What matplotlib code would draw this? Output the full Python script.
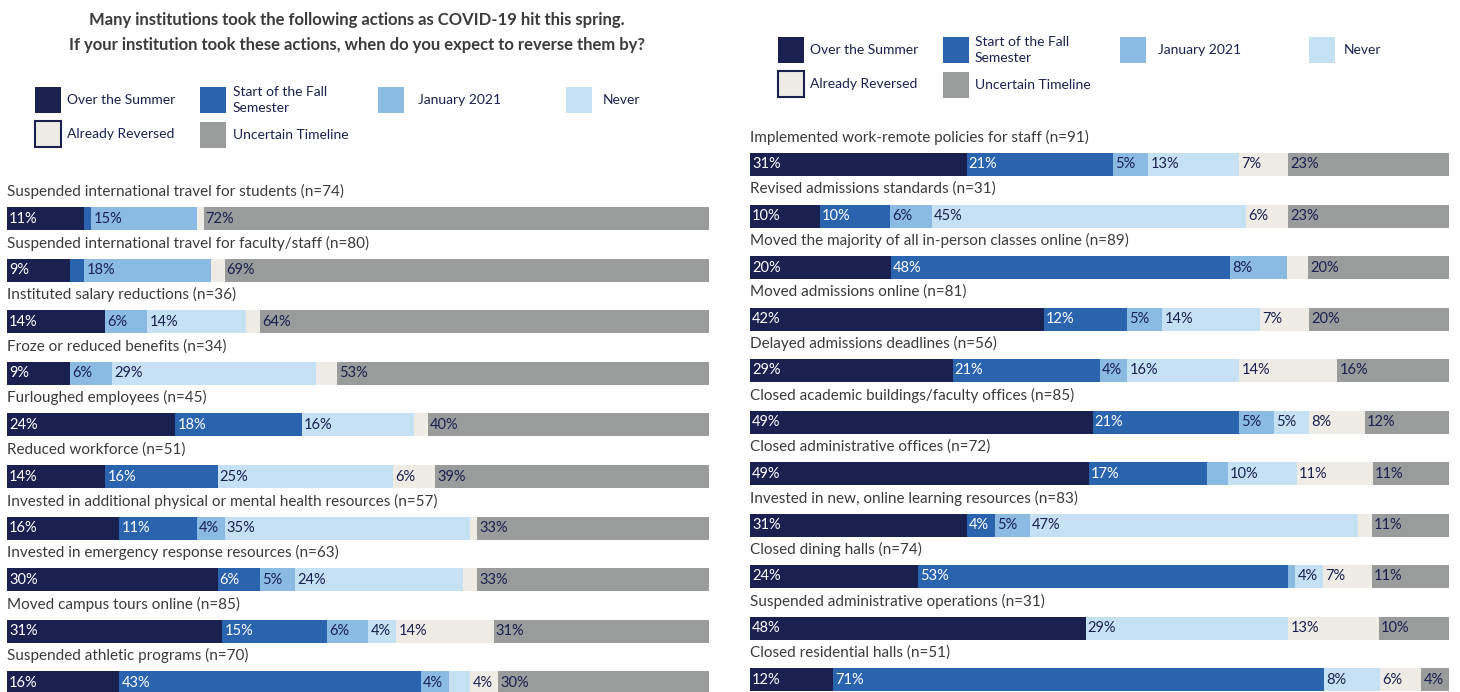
import numpy as np
import matplotlib
matplotlib.use('Agg')
import matplotlib.pyplot as plt
from matplotlib.patches import Rectangle

plt.rcParams['font.family'] = ['Lato', 'DejaVu Sans']

# ---- data ----
categories = ['Over the Summer', 'Start of the Fall\nSemester', 'January 2021',
              'Never', 'Already Reversed', 'Uncertain Timeline']

left_labels = ['Suspended international travel for students (n=74)',
               'Suspended international travel for faculty/staff (n=80)',
               'Instituted salary reductions (n=36)',
               'Froze or reduced benefits (n=34)',
               'Furloughed employees (n=45)',
               'Reduced workforce (n=51)',
               'Invested in additional physical or mental health resources (n=57)',
               'Invested in emergency response resources (n=63)',
               'Moved campus tours online (n=85)',
               'Suspended athletic programs (n=70)']
left_summer = [11, 9, 14, 9, 24, 14, 16, 30, 31, 16]
left_fall = [1, 2, 0, 0, 18, 16, 11, 6, 15, 43]
left_jan = [15, 18, 6, 6, 0, 0, 4, 5, 6, 4]
left_never = [0, 0, 14, 29, 16, 25, 35, 24, 4, 3]
left_reversed = [1, 2, 2, 3, 2, 6, 1, 2, 14, 4]
left_uncertain = [72, 69, 64, 53, 40, 39, 33, 33, 31, 30]

right_labels = ['Implemented work-remote policies for staff (n=91)',
                'Revised admissions standards (n=31)',
                'Moved the majority of all in-person classes online (n=89)',
                'Moved admissions online (n=81)',
                'Delayed admissions deadlines (n=56)',
                'Closed academic buildings/faculty offices (n=85)',
                'Closed administrative offices (n=72)',
                'Invested in new, online learning resources (n=83)',
                'Closed dining halls (n=74)',
                'Suspended administrative operations (n=31)',
                'Closed residential halls (n=51)']
right_summer = [31, 10, 20, 42, 29, 49, 49, 31, 24, 48, 12]
right_fall = [21, 10, 48, 12, 21, 21, 17, 4, 53, 0, 71]
right_jan = [5, 6, 8, 5, 4, 5, 3, 5, 1, 0, 0]
right_never = [13, 45, 0, 14, 16, 5, 10, 47, 4, 29, 8]
right_reversed = [7, 6, 3, 7, 14, 8, 11, 2, 7, 13, 6]
right_uncertain = [23, 23, 20, 20, 16, 12, 11, 11, 11, 10, 4]

colors = ['#1a2150', '#2a63ae', '#8bbae3', '#c6e0f4', '#efece5', '#9a9b9b']
text_colors = ['white', 'white', '#1a2150', '#1a2150', '#1a2150', '#1a2150']
label_color = '#3a3a3a'

W, H = 1460, 692
fig = plt.figure(figsize=(W / 100, H / 100), dpi=100)


def draw_panel(x0, x1, first_center, pitch, labels, series):
    ax = fig.add_axes([x0 / W, 0, (x1 - x0) / W, 1])
    vals = np.array(series, dtype=float).T          # rows x categories
    totals = vals.sum(axis=1)
    n = len(labels)
    y = np.arange(n)
    left = np.zeros(n)
    for k in range(vals.shape[1]):
        w = vals[:, k] / totals * 100
        ax.barh(y, w, left=left, height=23 / pitch, color=colors[k],
                edgecolor='none')
        for i in range(n):
            if vals[i, k] >= 4:
                ax.text(left[i] + 0.3, y[i], '%d%%' % vals[i, k],
                        color=text_colors[k], fontsize=10.5,
                        ha='left', va='center')
        left += w
    for i, lab in enumerate(labels):
        ax.text(0, y[i] - 27 / pitch, lab, color=label_color,
                fontsize=11, ha='left', va='center', clip_on=False)
    ax.set_xlim(0, 100)
    ax.set_ylim((H - first_center) / pitch, -first_center / pitch)
    ax.axis('off')
    return ax


draw_panel(7, 709, 218.5, 51.6, left_labels,
           [left_summer, left_fall, left_jan, left_never, left_reversed, left_uncertain])
draw_panel(750, 1449, 164.5, 51.5, right_labels,
           [right_summer, right_fall, right_jan, right_never, right_reversed, right_uncertain])

# overlay for title and legends (pixel coordinates)
ov = fig.add_axes([0, 0, 1, 1])
ov.set_xlim(0, W)
ov.set_ylim(H, 0)
ov.axis('off')

ov.text(357, 20, 'Many institutions took the following actions as COVID-19 hit this spring.',
        ha='center', va='center', fontsize=12, fontweight='bold', color='#3b3b3b')
ov.text(357, 45, 'If your institution took these actions, when do you expect to reverse them by?',
        ha='center', va='center', fontsize=12, fontweight='bold', color='#3b3b3b')


def draw_legend(xs, ys, offsets):
    for k, cat in enumerate(categories):
        ec = '#1a2150' if k == 4 else 'none'
        ov.add_patch(Rectangle((xs[k], ys[k]), 26, 26, facecolor=colors[k],
                               edgecolor=ec, linewidth=1.5))
        ov.text(xs[k] + offsets[k], ys[k] + 13, cat, ha='left', va='center',
                fontsize=10, color='#1a2150', linespacing=1.35)


draw_legend([35, 200, 378, 566, 35, 200], [87, 87, 87, 87, 121, 122],
            [32, 33, 40, 37, 32, 33])
draw_legend([778, 943, 1120, 1309, 778, 943], [37, 37, 37, 37, 71, 72],
            [32, 32, 38, 35, 32, 32])

fig.savefig('out.png', dpi=100)
